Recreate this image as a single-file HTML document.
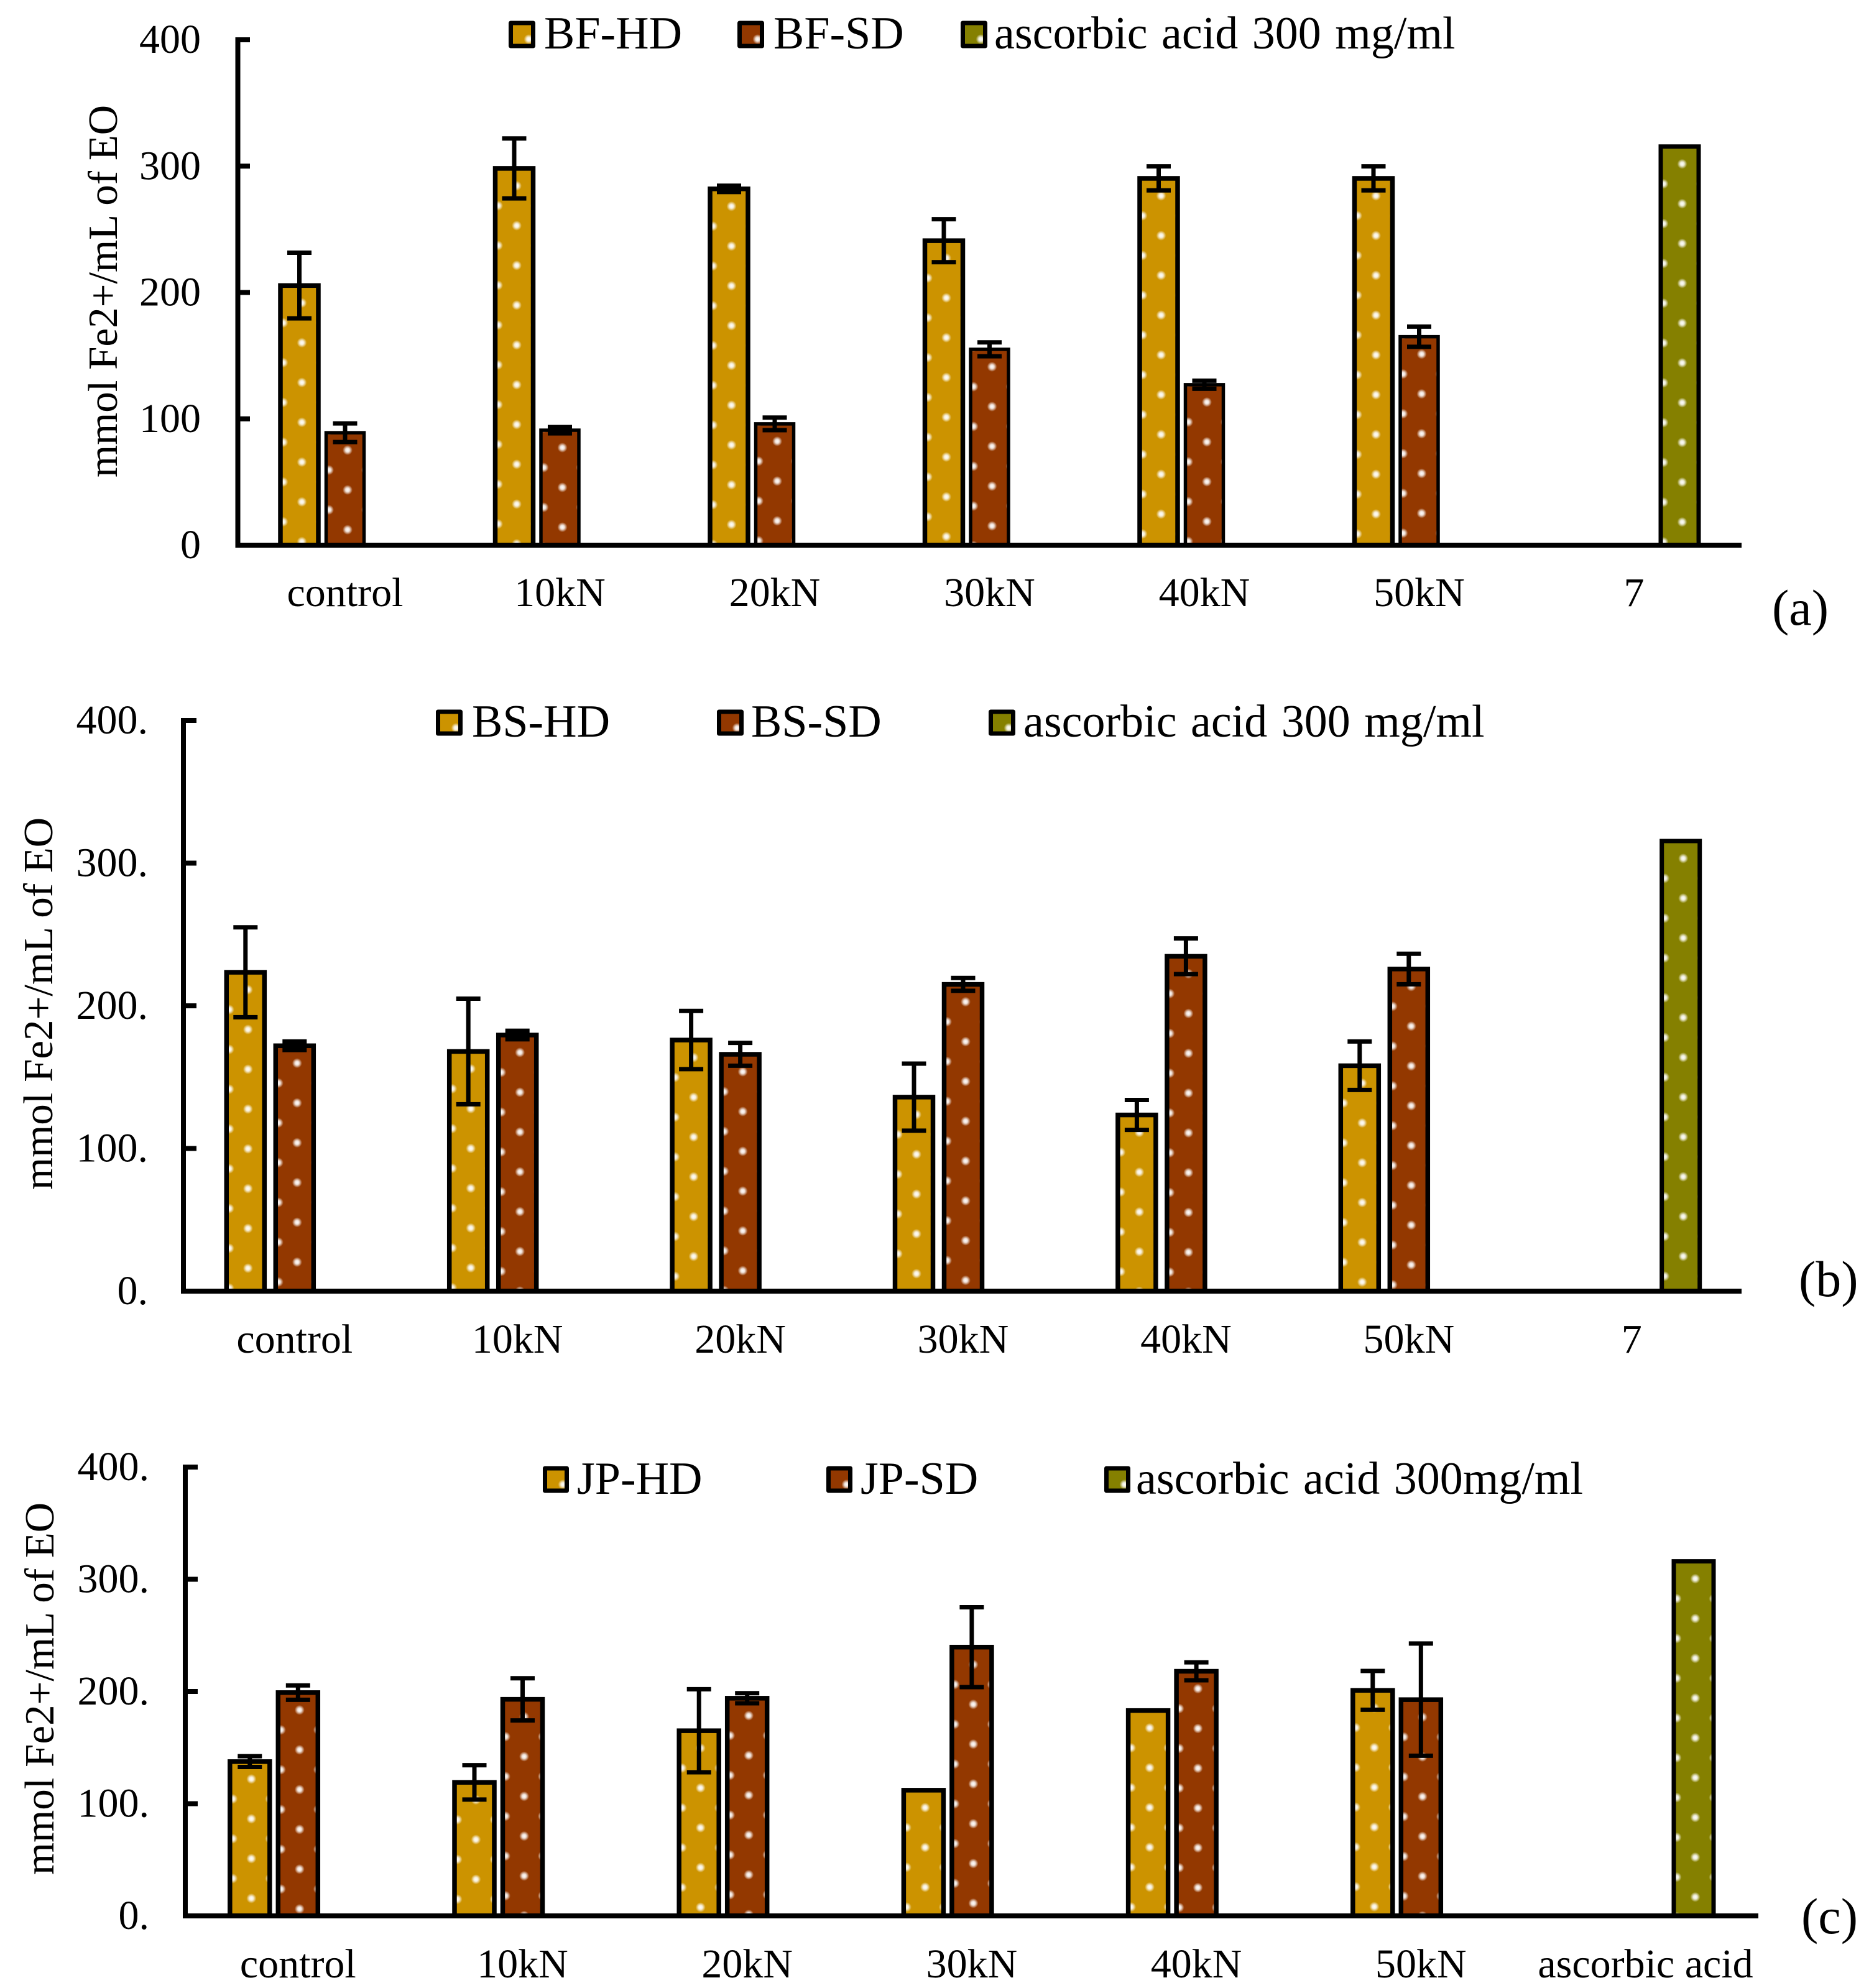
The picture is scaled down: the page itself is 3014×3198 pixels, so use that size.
<!DOCTYPE html>
<html lang="en">
<head>
<meta charset="utf-8">
<title>Ferric reducing power bar charts</title>
<style>
html,body{margin:0;padding:0;background:#fff;}
svg{display:block;}
text{font-family:"Liberation Serif",serif;fill:#000;}
</style>
</head>
<body>
<svg id="chart" xmlns="http://www.w3.org/2000/svg" width="3014" height="3198" viewBox="0 0 3014 3198">
<defs>
<radialGradient id="dot-glow">
<stop offset="0" stop-color="#fff" stop-opacity="1"/>
<stop offset="0.4" stop-color="#fff" stop-opacity="0.85"/>
<stop offset="1" stop-color="#fff" stop-opacity="0"/>
</radialGradient>
</defs>
</svg>
<script>
const categoriesAB = ['control', '10kN', '20kN', '30kN', '40kN', '50kN', '7'];
const categoriesC = ['control', '10kN', '20kN', '30kN', '40kN', '50kN', 'ascorbic acid'];
const tickValues = [0, 100, 200, 300, 400];
const tickLabelsA = ['0', '100', '200', '300', '400'];
const tickLabelsBC = ['0.', '100.', '200.', '300.', '400.'];

const bfHD = [205.5, 298.2, 282, 241, 290.3, 290.3, null];
const bfHDErr = [26, 23.7, 2.5, 17, 9.5, 9.5, null];
const bfSD = [89, 91, 96, 155, 127, 165, null];
const bfSDErr = [7.4, 2.5, 5, 5.5, 3.2, 8, null];
const ascorbicA = [null, null, null, null, null, null, 315.5];

const bsHD = [223.5, 168, 176, 136, 123.5, 158, null];
const bsHDErr = [31.5, 37, 20.4, 23.5, 10.5, 17, null];
const bsSD = [172, 179.5, 166, 215, 234.7, 225.8, null];
const bsSDErr = [3, 3, 8, 4.5, 12.5, 10.7, null];
const ascorbicB = [null, null, null, null, null, null, 315.5];

const jpHD = [137.5, 119, 165, 112, 183, 201, null];
const jpHDErr = [4.8, 15.3, 37, 0, 0, 17.3, null];
const jpSD = [199, 193, 194, 239.5, 218, 192.7, null];
const jpSDErr = [6.4, 18.8, 4.5, 35.6, 8, 50, null];
const ascorbicC = [null, null, null, null, null, null, 316];

const HD_COLOR = '#cc9300';
const SD_COLOR = '#933800';
const ASC_COLOR = '#858000';
const NS = 'http://www.w3.org/2000/svg';
const svg = document.getElementById('chart');
const defs = svg.querySelector('defs');

const panels = [
  {
    id: 'a', categories: categoriesAB, ticks: tickLabelsA,
    series: [
      {name: 'BF-HD', color: HD_COLOR, values: bfHD, err: bfHDErr, swatchX: 818, swatchW: 43, textX: 875, stroke: 7.5},
      {name: 'BF-SD', color: SD_COLOR, values: bfSD, err: bfSDErr, swatchX: 1186, swatchW: 43, textX: 1244, stroke: 5.5},
      {name: 'ascorbic acid 300 mg/ml', color: ASC_COLOR, values: ascorbicA, err: null, swatchX: 1545, swatchW: 43, textX: 1599, stroke: 7}
    ],
    axisX: 382.5, yTop: 64, y0: 877, xRight: 2801, tickEnd: 402,
    x0: 481.5, step: 345.5, gap: 73.5, barW: 61,
    tickTextX: 323, titleX: 188, titleY: 768, catY: 975,
    swatchTop: 37, swatchBottom: 74, legendY: 78,
    panelLabel: '(a)', panelX: 2850, panelY: 1005
  },
  {
    id: 'b', categories: categoriesAB, ticks: tickLabelsBC,
    series: [
      {name: 'BS-HD', color: HD_COLOR, values: bsHD, err: bsHDErr, swatchX: 701, swatchW: 43, textX: 759, stroke: 7.5},
      {name: 'BS-SD', color: SD_COLOR, values: bsSD, err: bsSDErr, swatchX: 1153, swatchW: 43, textX: 1208, stroke: 7.5},
      {name: 'ascorbic acid 300 mg/ml', color: ASC_COLOR, values: ascorbicB, err: null, swatchX: 1590, swatchW: 43, textX: 1646, stroke: 7}
    ],
    axisX: 295, yTop: 1159, y0: 2077, xRight: 2801, tickEnd: 316,
    x0: 394.8, step: 358.4, gap: 79, barW: 61,
    tickTextX: 238, titleX: 84, titleY: 1914, catY: 2176,
    swatchTop: 1145, swatchBottom: 1180, legendY: 1185,
    panelLabel: '(b)', panelX: 2893, panelY: 2085
  },
  {
    id: 'c', categories: categoriesC, ticks: tickLabelsBC,
    series: [
      {name: 'JP-HD', color: HD_COLOR, values: jpHD, err: jpHDErr, swatchX: 873, swatchW: 42, textX: 928, stroke: 7.5},
      {name: 'JP-SD', color: SD_COLOR, values: jpSD, err: jpSDErr, swatchX: 1329, swatchW: 42, textX: 1384, stroke: 7.5},
      {name: 'ascorbic acid 300mg/ml', color: ASC_COLOR, values: ascorbicC, err: null, swatchX: 1776, swatchW: 42, textX: 1827, stroke: 7}
    ],
    axisX: 298, yTop: 2360, y0: 3082, xRight: 2828, tickEnd: 318,
    x0: 401.8, step: 361.2, gap: 77.5, barW: 64,
    tickTextX: 240, titleX: 86, titleY: 3016, catY: 3181,
    swatchTop: 2362, swatchBottom: 2398, legendY: 2403,
    panelLabel: '(c)', panelX: 2897, panelY: 3110
  }
];

const Y_MAX = 400;
function yPos(p, value) { return p.y0 - (value / Y_MAX) * (p.y0 - p.yTop); }
function xPos(p, catIndex, seriesIndex) { return p.x0 + catIndex * p.step + seriesIndex * p.gap; }

function make(tag, attrs, parent) {
  const el = document.createElementNS(NS, tag);
  for (const k in attrs) el.setAttribute(k, attrs[k]);
  parent.appendChild(el);
  return el;
}

function dotPattern(id, x, top) {
  const pat = make('pattern', {
    id: id, patternUnits: 'userSpaceOnUse', width: 60, height: 64,
    patternTransform: 'translate(' + (x - 3.5) + ' ' + (top + 12) + ')'
  }, defs);
  make('circle', {cx: 38, cy: 16, r: 8, fill: 'url(#dot-glow)'}, pat);
  make('circle', {cx: 8, cy: 48, r: 8, fill: 'url(#dot-glow)'}, pat);
  return id;
}

panels.forEach(function (p) {
  const panel = make('g', {}, svg);
  
  

  p.series.forEach(function (s, si) {
    s.values.forEach(function (v, ci) {
      if (v === null) return;
      const cx = xPos(p, ci, si);
      const top = yPos(p, v);
      const left = cx - p.barW / 2;
      const bar = make('rect', {
        x: left, y: top, width: p.barW, height: p.y0 - top,
        fill: s.color, stroke: '#000', 'stroke-width': s.stroke
      }, panel);
      
      
      const patId = dotPattern('dots-' + p.id + '-' + si + '-' + ci, left, top);
      const inset = s.stroke / 2;
      const dots = make('rect', {
        x: left + inset, y: top + inset, width: p.barW - s.stroke, height: Math.max(0, p.y0 - top - inset),
        fill: 'url(#' + patId + ')'
      }, panel);
      
      
    });
  });

  p.series.forEach(function (s, si) {
    if (!s.err) return;
    s.values.forEach(function (v, ci) {
      if (v === null || !s.err[ci]) return;
      const cx = xPos(p, ci, si);
      const yHi = yPos(p, v + s.err[ci]);
      const yLo = yPos(p, v - s.err[ci]);
      const eb = make('path', {
        d: 'M' + (cx - 19.5) + ' ' + yHi + 'H' + (cx + 19.5) +
           'M' + cx + ' ' + yHi + 'V' + yLo +
           'M' + (cx - 19.5) + ' ' + yLo + 'H' + (cx + 19.5),
        fill: 'none', stroke: '#000', 'stroke-width': 7
      }, panel);
      
      
    });
  });

  const yAxis = make('line', {x1: p.axisX, y1: p.yTop - 4, x2: p.axisX, y2: p.y0 + 4, stroke: '#000', 'stroke-width': 8}, panel);
  
  
  const xAxis = make('line', {x1: p.axisX, y1: p.y0, x2: p.xRight, y2: p.y0, stroke: '#000', 'stroke-width': 8}, panel);
  
  

  tickValues.forEach(function (t, i) {
    const y = yPos(p, t);
    if (t > 0) {
      const tick = make('line', {x1: p.axisX, y1: y, x2: p.tickEnd, y2: y, stroke: '#000', 'stroke-width': 8}, panel);
      
      
    }
    const lab = make('text', {x: p.tickTextX, y: y + 21, 'font-size': 66, 'text-anchor': 'end'}, panel);
    lab.textContent = p.ticks[i];
    
    
  });

  p.categories.forEach(function (c, ci) {
    const lab = make('text', {x: xPos(p, ci, 1), y: p.catY, 'font-size': 66, 'text-anchor': 'middle'}, panel);
    lab.textContent = c;
    
    
  });

  const title = make('text', {
    x: 0, y: 0, 'font-size': 67,
    transform: 'translate(' + p.titleX + ' ' + p.titleY + ') rotate(-90)'
  }, panel);
  title.textContent = 'mmol Fe2+/mL of EO';
  
  

  p.series.forEach(function (s) {
    const swatch = make('rect', {
      x: s.swatchX + 3.5, y: p.swatchTop, width: s.swatchW - 7, height: p.swatchBottom - p.swatchTop,
      fill: s.color, stroke: '#000', 'stroke-width': 7, 'stroke-linejoin': 'round'
    }, panel);
    
    
    const swatchPat = dotPattern('dots-legend-' + p.id + '-' + s.name.split(' ')[0], s.swatchX - 2, p.swatchTop - 2);
    const swatchDots = make('rect', {
      x: s.swatchX + 7, y: p.swatchTop + 3.5, width: s.swatchW - 14, height: p.swatchBottom - p.swatchTop - 7,
      fill: 'url(#' + swatchPat + ')'
    }, panel);
    
    
    const t = make('text', {x: s.textX, y: p.legendY, 'font-size': 74, 'word-spacing': 4}, panel);
    t.textContent = s.name;
    
    
  });

  const pl = make('text', {x: p.panelX, y: p.panelY, 'font-size': 82}, panel);
  pl.textContent = p.panelLabel;
  
  
});
</script>
</body>
</html>
